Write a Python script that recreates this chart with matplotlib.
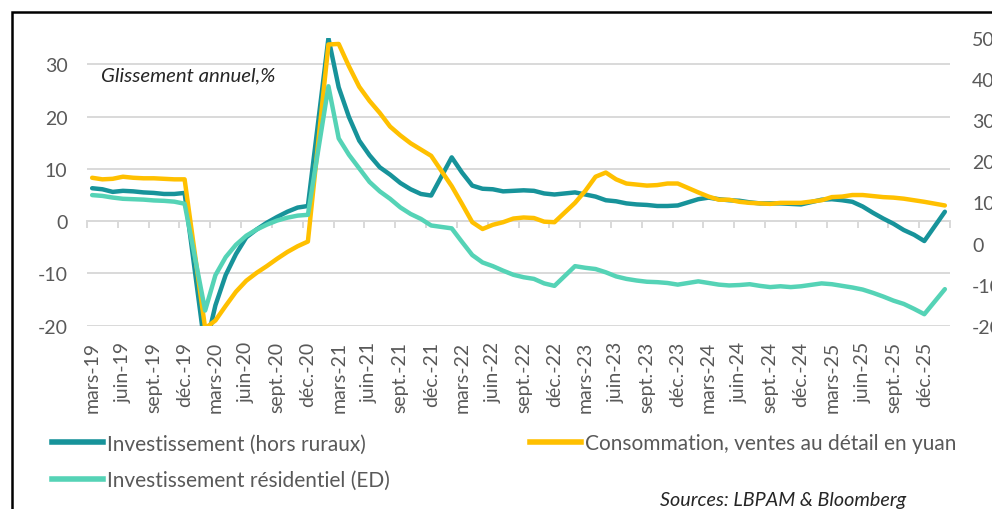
import numpy as np
import matplotlib
matplotlib.use("Agg")
import matplotlib.pyplot as plt
from matplotlib.patches import Rectangle
from matplotlib.lines import Line2D

# ---------------- data ----------------
dates = (["2019-%02d" % m for m in range(3, 13)]
         + ["%d-%02d" % (y, m) for y in range(2020, 2026) for m in range(2, 13)]
         + ["2026-02"])

inv = [6.3, 6.1, 5.6, 5.8, 5.7, 5.5, 5.4, 5.2, 5.2, 5.4,
       -24.5, -16.1, -10.3, -6.3, -3.1, -1.6, -0.3, 0.8, 1.8, 2.6, 2.9,
       35.0, 25.6, 19.9, 15.4, 12.6, 10.3, 8.9, 7.3, 6.1, 5.2, 4.9,
       12.2, 9.3, 6.8, 6.2, 6.1, 5.7, 5.8, 5.9, 5.8, 5.3, 5.1,
       5.5, 5.1, 4.7, 4.0, 3.8, 3.4, 3.2, 3.1, 2.9, 2.9, 3.0,
       4.2, 4.5, 4.2, 4.0, 3.9, 3.6, 3.4, 3.4, 3.4, 3.3, 3.2,
       4.1, 4.2, 4.0, 3.7, 2.8, 1.6, 0.5, -0.5, -1.7, -2.6, -3.8,
       1.8]

conso = [8.3, 8.0, 8.1, 8.5, 8.3, 8.2, 8.2, 8.1, 8.0, 8.0,
         -20.5, -19.0, -16.2, -13.5, -11.4, -9.9, -8.6, -7.2, -5.9, -4.8, -3.9,
         33.8, 33.9, 29.6, 25.7, 23.0, 20.7, 18.1, 16.4, 14.9, 13.7, 12.5,
         6.7, 3.3, -0.2, -1.5, -0.7, -0.2, 0.5, 0.7, 0.6, -0.1, -0.2,
         3.5, 5.8, 8.5, 9.3, 8.0, 7.2, 7.0, 6.8, 6.9, 7.2, 7.2,
         5.5, 4.7, 4.1, 4.1, 3.7, 3.5, 3.4, 3.3, 3.5, 3.5, 3.5,
         4.0, 4.6, 4.7, 5.0, 5.0, 4.8, 4.6, 4.5, 4.3, 4.0, 3.7,
         3.0]

resid = [11.8, 11.6, 11.2, 10.9, 10.8, 10.7, 10.5, 10.4, 10.2, 9.7,
         -16.3, -7.7, -3.3, -0.3, 1.9, 3.4, 4.6, 5.6, 6.3, 6.8, 7.0,
         38.3, 25.6, 21.6, 18.3, 15.0, 12.7, 10.9, 8.8, 7.2, 6.0, 4.4,
         3.7, 0.4, -2.8, -4.6, -5.5, -6.6, -7.6, -8.2, -8.6, -9.7, -10.3,
         -5.5, -5.9, -6.2, -7.0, -8.0, -8.6, -9.0, -9.3, -9.4, -9.6, -10.0,
         -9.2, -9.6, -10.0, -10.2, -10.1, -9.9, -10.3, -10.6, -10.4, -10.6, -10.4,
         -9.7, -9.9, -10.3, -10.7, -11.2, -12.0, -12.9, -13.9, -14.7, -15.9, -17.2,
         -11.1]

tick_labels = ["mars-19", "juin-19", "sept.-19", "déc.-19",
               "mars-20", "juin-20", "sept.-20", "déc.-20",
               "mars-21", "juin-21", "sept.-21", "déc.-21",
               "mars-22", "juin-22", "sept.-22", "déc.-22",
               "mars-23", "juin-23", "sept.-23", "déc.-23",
               "mars-24", "juin-24", "sept.-24", "déc.-24",
               "mars-25", "juin-25", "sept.-25", "déc.-25"]

series_names = ["Investissement (hors ruraux)",
                "Consommation, ventes au détail en yuan",
                "Investissement résidentiel (ED)"]

# ---------------- style ----------------
FONT = ["Lato", "DejaVu Sans"]
plt.rcParams["font.family"] = FONT
plt.rcParams["axes.unicode_minus"] = False
C_INV = "#17939a"
C_CONSO = "#ffc000"
C_RES = "#55d3b6"
GRID = "#d9d9d9"
TXT = "#595959"
FS = 14

W, H = 992, 510
fig = plt.figure(figsize=(W / 100, H / 100), dpi=100)

ax_l, ax_r, ax_t, ax_b = 87, 950, 39.2, 326.7
ax = fig.add_axes([ax_l / W, 1 - ax_b / H, (ax_r - ax_l) / W, (ax_b - ax_t) / H])

# month index (0 = mars-19)
def month_index(s):
    y, m = s.split("-")
    return (int(y) - 2019) * 12 + int(m) - 3

x = np.array([month_index(d) for d in dates])
n_months = month_index("2026-02") + 1

ax.set_xlim(-0.5, n_months - 0.5)
ax.set_ylim(-20, 35)
ax.set_yticks(np.arange(-20, 31, 10))
ax.yaxis.grid(True, color=GRID, lw=1.4)
ax.set_axisbelow(True)
for s in ["left", "right", "top"]:
    ax.spines[s].set_visible(False)
ax.spines["bottom"].set_position(("data", 0))
ax.spines["bottom"].set_color(GRID)
ax.spines["bottom"].set_linewidth(1.4)
ax.set_xticks(np.arange(-0.5, n_months, 3))
ax.tick_params(axis="x", direction="out", length=5, width=1.4, color=GRID,
               labelbottom=False)
ax.tick_params(axis="y", length=0, pad=14, labelsize=FS, labelcolor=TXT)

sec = ax.secondary_xaxis("bottom")
sec.set_xticks(np.arange(0, len(tick_labels) * 3, 3), labels=tick_labels,
               rotation=90)
sec.tick_params(length=0, pad=11, labelsize=FS, labelcolor=TXT)
sec.spines["bottom"].set_visible(False)

l_inv, = ax.plot(x, inv, color=C_INV, lw=3.2, solid_joinstyle="round",
                 solid_capstyle="round", zorder=3)
l_con, = ax.plot(x, conso, color=C_CONSO, lw=3.2, solid_joinstyle="round",
                 solid_capstyle="round", zorder=4)

ax2 = ax.twinx()
ax2.set_ylim(-20, 50)
ax2.set_yticks(np.arange(-20, 51, 10))
for s in ax2.spines.values():
    s.set_visible(False)
ax2.tick_params(axis="y", length=0, pad=16, labelsize=FS, labelcolor=TXT)
l_res, = ax2.plot(x, resid, color=C_RES, lw=3.2, solid_joinstyle="round",
                  solid_capstyle="round", zorder=3)

# annotations
fig.text(101 / W, 1 - 76 / H, "Glissement annuel,%", fontsize=14.7,
         style="italic", color="#262626", ha="left", va="center")
fig.text(660 / W, 1 - 501 / H, "Sources: LBPAM & Bloomberg", fontsize=14.2,
         style="italic", color="#262626", ha="left", va="center")

# legend
h1 = Line2D([], [], color=C_INV, lw=4)
h2 = Line2D([], [], color=C_RES, lw=4)
h3 = Line2D([], [], color=C_CONSO, lw=4)
fig.legend([h1, h2, h3], [series_names[0], series_names[2], series_names[1]],
           loc="upper left", bbox_to_anchor=(52 / W, 1 - 434.5 / H), ncol=2,
           frameon=False, fontsize=15, labelcolor=TXT, handlelength=2.45,
           handletextpad=0.2, columnspacing=6.7, labelspacing=0.8,
           borderpad=0, borderaxespad=0)

# outer frame
fig.add_artist(Rectangle((11.7 / W, -0.5), 2, 0.5 + 1 - 13.3 / H,
                         transform=fig.transFigure, fill=False,
                         edgecolor="black", lw=1.8))

fig.savefig("out.png", dpi=100, facecolor="white")
